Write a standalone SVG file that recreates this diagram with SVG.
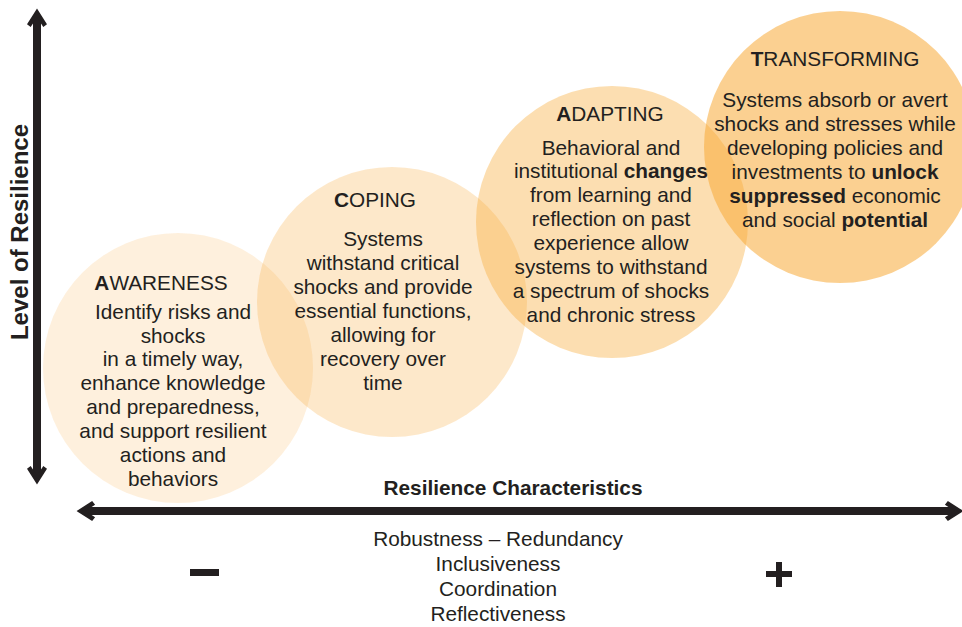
<svg xmlns="http://www.w3.org/2000/svg" width="962" height="627" viewBox="0 0 962 627">
<style>
text{font-family:"Liberation Sans",Arial,Helvetica,sans-serif;fill:#231f20;text-anchor:middle}
.t{font-size:20.8px}
.b{font-weight:bold}
.ax{stroke:#231f20;stroke-width:8;fill:none}
</style>
<defs>
<marker id="ah" markerUnits="userSpaceOnUse" markerWidth="20" markerHeight="22" viewBox="-2 -11 20 22" refX="10" refY="0" orient="auto-start-reverse">
<path d="M16,0 L2,-9 L0,-6.5 L10,0 L0,6.5 L2,9 Z" fill="#231f20" stroke="#231f20" stroke-width="1.5" stroke-linejoin="miter"/>
</marker>
</defs>
<rect width="962" height="627" fill="#fff"/>
<g id="awareness">
<circle cx="178" cy="368" r="135" fill="#f7a833" fill-opacity="0.17"/>
<text class="t" x="161" y="290"><tspan class="b">A</tspan>WARENESS</text>
<text class="t"><tspan x="173" y="319">Identify risks and</tspan><tspan x="173" y="343">shocks</tspan><tspan x="173" y="366">in a timely way,</tspan><tspan x="173" y="390">enhance knowledge</tspan><tspan x="173" y="414">and preparedness,</tspan><tspan x="173" y="438">and support resilient</tspan><tspan x="173" y="462">actions and</tspan><tspan x="173" y="486">behaviors</tspan></text>
</g>
<g id="coping">
<circle cx="392" cy="302" r="135" fill="#f7a833" fill-opacity="0.26"/>
<text class="t" x="375" y="207"><tspan class="b">C</tspan>OPING</text>
<text class="t"><tspan x="383" y="246">Systems</tspan><tspan x="383" y="270">withstand critical</tspan><tspan x="383" y="294">shocks and provide</tspan><tspan x="383" y="318">essential functions,</tspan><tspan x="383" y="342">allowing for</tspan><tspan x="383" y="366">recovery over</tspan><tspan x="383" y="390">time</tspan></text>
</g>
<g id="adapting">
<circle cx="612" cy="222" r="136" fill="#f7a833" fill-opacity="0.38"/>
<text class="t" x="610" y="121"><tspan class="b">A</tspan>DAPTING</text>
<text class="t"><tspan x="611" y="155">Behavioral and</tspan><tspan x="611" y="178">institutional <tspan class="b">changes</tspan></tspan><tspan x="611" y="202">from learning and</tspan><tspan x="611" y="226">reflection on past</tspan><tspan x="611" y="250">experience allow</tspan><tspan x="611" y="274">systems to withstand</tspan><tspan x="611" y="298">a spectrum of shocks</tspan><tspan x="611" y="322">and chronic stress</tspan></text>
</g>
<g id="transforming">
<circle cx="840" cy="147" r="136" fill="#f7a833" fill-opacity="0.54"/>
<text class="t" x="835" y="66"><tspan class="b">T</tspan>RANSFORMING</text>
<text class="t"><tspan x="835" y="107">Systems absorb or avert</tspan><tspan x="835" y="131">shocks and stresses while</tspan><tspan x="835" y="155">developing policies and</tspan><tspan x="835" y="179">investments to <tspan class="b">unlock</tspan></tspan><tspan x="835" y="203"><tspan class="b">suppressed</tspan> economic</tspan><tspan x="835" y="227">and social <tspan class="b">potential</tspan></tspan></text>
</g>
<g id="connectors">
<line class="ax" x1="37" y1="16" x2="37" y2="477" marker-start="url(#ah)" marker-end="url(#ah)"/>
<line class="ax" x1="84" y1="511" x2="956" y2="511" marker-start="url(#ah)" marker-end="url(#ah)"/>
</g>
<g id="labels">
<text class="b" font-size="24" transform="translate(28,232) rotate(-90)">Level of Resilience</text>
<text class="t b" x="513" y="495">Resilience Characteristics</text>
<text class="t"><tspan x="498" y="546">Robustness – Redundancy</tspan><tspan x="498" y="571">Inclusiveness</tspan><tspan x="498" y="596">Coordination</tspan><tspan x="498" y="621">Reflectiveness</tspan></text>
<rect x="190" y="569" width="29" height="7" fill="#231f20"/>
<rect x="766" y="571" width="26" height="6" fill="#231f20"/>
<rect x="776" y="562" width="6" height="25" fill="#231f20"/>
</g>
</svg>
